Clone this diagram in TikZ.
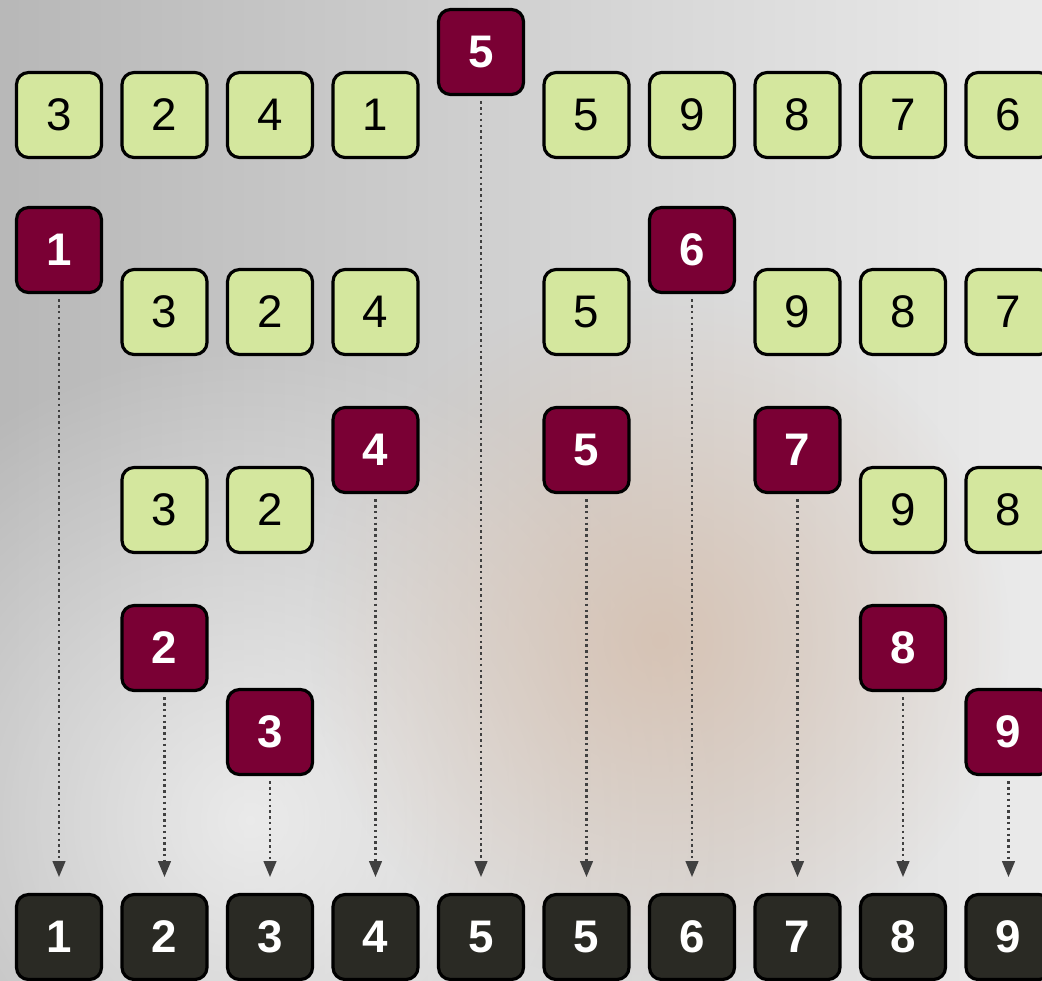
\documentclass[tikz,border=0pt]{standalone}
\usepackage{fontspec}
\setmainfont{Liberation Sans}
\usetikzlibrary{arrows.meta, fadings}

\definecolor{cellgreen}{RGB}{212,231,158}
\definecolor{pivotred}{RGB}{122,0,52}
\definecolor{sortedgray}{RGB}{42,42,36}
\definecolor{swirlbeige}{RGB}{214,190,172}
\tikzfading[name=softspot, inner color=transparent!0, outer color=transparent!100]

\begin{document}
\begin{tikzpicture}[x=0.02cm, y=-0.02cm,
  >={Triangle[length=3.2mm, width=2.5mm]},
  cellbox/.style={draw=black, line width=1.8pt, rounded corners=2.4mm, fill=cellgreen,
    minimum size=1.7cm, inner sep=0pt, font=\fontsize{26}{28}\selectfont},
  pivotbox/.style={cellbox, fill=pivotred, text=white, font=\fontsize{26}{28}\selectfont\bfseries},
  sortedbox/.style={pivotbox, fill=sortedgray},
  droparrow/.style={->, line width=1.5pt, dash pattern=on 1.4pt off 1.9pt, draw=black!75,
    shorten <=3pt, shorten >=9pt}]
  \useasboundingbox (0,0) rectangle (1042,981);
  \clip (0,0) rectangle (1042,981);
  % fondo
  \shade[left color=black!28, right color=black!8] (0,0) rectangle (1042,981);
  \fill[white, opacity=0.65, path fading=softspot] (250,820) circle (9.5cm);
  \fill[swirlbeige, opacity=0.8, path fading=softspot] (660,640) circle (7cm);

  % primera particion, pivote 5
  \node[pivotbox] (p5a) at (481,52) {5};
  \node[cellbox] (r1a) at (59,115) {3};
  \node[cellbox] (r1b) at (164.5,115) {2};
  \node[cellbox] (r1c) at (270,115) {4};
  \node[cellbox] (r1d) at (375.5,115) {1};
  \node[cellbox] (r1e) at (586.5,115) {5};
  \node[cellbox] (r1f) at (692,115) {9};
  \node[cellbox] (r1g) at (797.5,115) {8};
  \node[cellbox] (r1h) at (903,115) {7};
  \node[cellbox] (r1i) at (1008.5,115) {6};

  % segunda particion, pivotes 1 y 6
  \node[pivotbox] (p1) at (59,250) {1};
  \node[pivotbox] (p6) at (692,250) {6};
  \node[cellbox] (r2a) at (164.5,312) {3};
  \node[cellbox] (r2b) at (270,312) {2};
  \node[cellbox] (r2c) at (375.5,312) {4};
  \node[cellbox] (r2d) at (586.5,312) {5};
  \node[cellbox] (r2e) at (797.5,312) {9};
  \node[cellbox] (r2f) at (903,312) {8};
  \node[cellbox] (r2g) at (1008.5,312) {7};

  % tercera particion, pivotes 4, 5 y 7
  \node[pivotbox] (p4) at (375.5,450) {4};
  \node[pivotbox] (p5b) at (586.5,450) {5};
  \node[pivotbox] (p7) at (797.5,450) {7};
  \node[cellbox] (r3a) at (164.5,510) {3};
  \node[cellbox] (r3b) at (270,510) {2};
  \node[cellbox] (r3c) at (903,510) {9};
  \node[cellbox] (r3d) at (1008.5,510) {8};

  % ultimos pivotes
  \node[pivotbox] (p2) at (164.5,648) {2};
  \node[pivotbox] (p8) at (903,648) {8};
  \node[pivotbox] (p3) at (270,732) {3};
  \node[pivotbox] (p9) at (1008.5,732) {9};

  % resultado ordenado
  \foreach \v [count=\i] in {1,2,3,4,5,5,6,7,8,9}
    \node[sortedbox] (s\i) at ({59+105.5*(\i-1)},937) {\v};

  % cada pivote cae a su sitio
  \draw[droparrow] (p1) -- (s1);
  \draw[droparrow] (p2) -- (s2);
  \draw[droparrow] (p3) -- (s3);
  \draw[droparrow] (p4) -- (s4);
  \draw[droparrow] (p5a) -- (s5);
  \draw[droparrow] (p5b) -- (s6);
  \draw[droparrow] (p6) -- (s7);
  \draw[droparrow] (p7) -- (s8);
  \draw[droparrow] (p8) -- (s9);
  \draw[droparrow] (p9) -- (s10);
\end{tikzpicture}
\end{document}
